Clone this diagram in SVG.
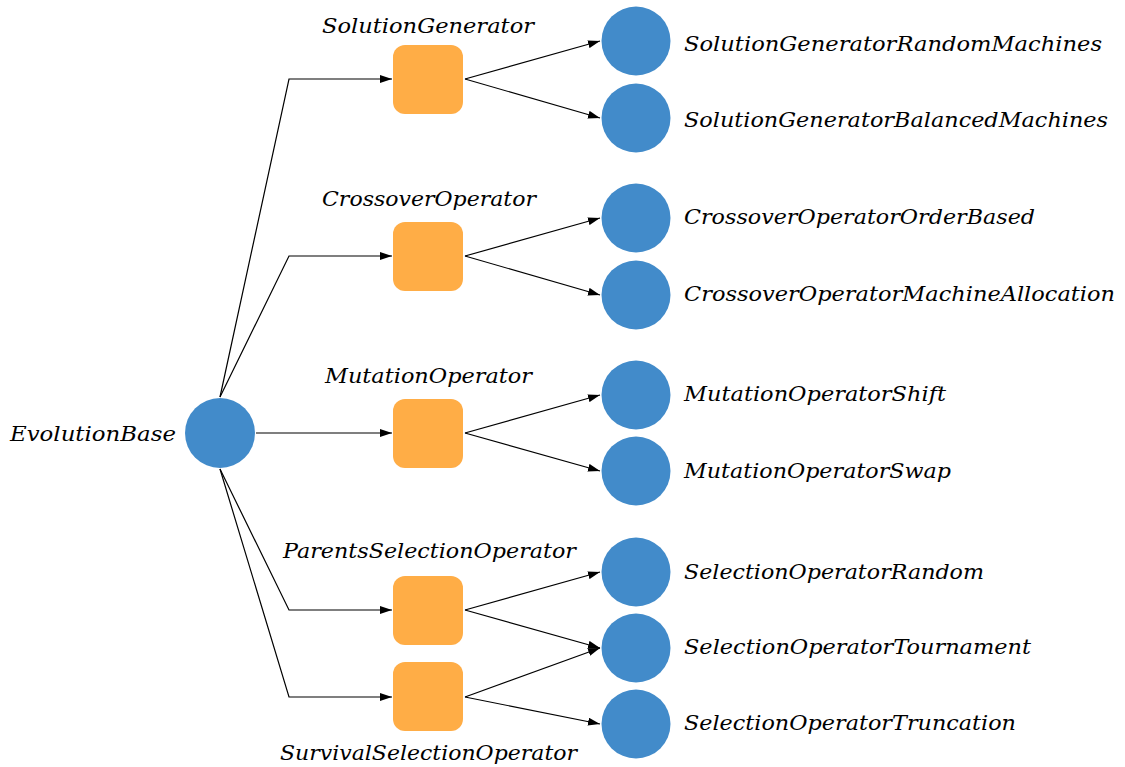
<svg xmlns="http://www.w3.org/2000/svg" width="1125" height="767" viewBox="0 0 1125 767">
<style>
.c{fill:#428bca}
.s{fill:#ffad46}
.t{font-family:'DejaVu Serif','Liberation Serif',serif;font-style:italic;font-size:21px;fill:#000}
.e{fill:none;stroke:#000;stroke-width:1.2}
</style>
<defs>
<marker id="a" viewBox="0 0 12 8" refX="12" refY="4" markerWidth="12" markerHeight="8" markerUnits="userSpaceOnUse" orient="auto">
<path d="M0,0 L12,4 L0,8 Z" fill="#000"/>
</marker>
</defs>
<rect width="1125" height="767" fill="#fff"/>
<g id="edges">
<polyline class="e" marker-end="url(#a)" points="220,397 289,79 392,79"/>
<polyline class="e" marker-end="url(#a)" points="220,397 289,256 392,256"/>
<polyline class="e" marker-end="url(#a)" points="256,433 392,433"/>
<polyline class="e" marker-end="url(#a)" points="220,469 289,610 392,610"/>
<polyline class="e" marker-end="url(#a)" points="220,469 289,697 392,697"/>
<line class="e" marker-end="url(#a)" x1="465" y1="79" x2="600" y2="41"/>
<line class="e" marker-end="url(#a)" x1="465" y1="79" x2="600" y2="118"/>
<line class="e" marker-end="url(#a)" x1="465" y1="256" x2="600" y2="218"/>
<line class="e" marker-end="url(#a)" x1="465" y1="256" x2="600" y2="295"/>
<line class="e" marker-end="url(#a)" x1="465" y1="433" x2="600" y2="395"/>
<line class="e" marker-end="url(#a)" x1="465" y1="433" x2="600" y2="471"/>
<line class="e" marker-end="url(#a)" x1="465" y1="610" x2="600" y2="572"/>
<line class="e" marker-end="url(#a)" x1="465" y1="610" x2="600" y2="648"/>
<line class="e" marker-end="url(#a)" x1="465" y1="697" x2="600" y2="648"/>
<line class="e" marker-end="url(#a)" x1="465" y1="697" x2="600" y2="724"/>
</g>
<g id="EvolutionBase"><circle class="c" cx="220" cy="433" r="35"/><text class="t" x="10" y="441" textLength="166" lengthAdjust="spacingAndGlyphs">EvolutionBase</text></g>
<g id="SolutionGenerator"><rect class="s" x="393" y="45" width="70" height="69" rx="12"/><text class="t" x="322" y="33" textLength="212" lengthAdjust="spacingAndGlyphs">SolutionGenerator</text></g>
<g id="CrossoverOperator"><rect class="s" x="393" y="222" width="70" height="69" rx="12"/><text class="t" x="322" y="206" textLength="214" lengthAdjust="spacingAndGlyphs">CrossoverOperator</text></g>
<g id="MutationOperator"><rect class="s" x="393" y="399" width="70" height="69" rx="12"/><text class="t" x="325" y="383" textLength="207" lengthAdjust="spacingAndGlyphs">MutationOperator</text></g>
<g id="ParentsSelectionOperator"><rect class="s" x="393" y="576" width="70" height="69" rx="12"/><text class="t" x="283" y="558" textLength="293" lengthAdjust="spacingAndGlyphs">ParentsSelectionOperator</text></g>
<g id="SurvivalSelectionOperator"><rect class="s" x="393" y="662" width="70" height="69" rx="12"/><text class="t" x="280" y="760" textLength="297" lengthAdjust="spacingAndGlyphs">SurvivalSelectionOperator</text></g>
<g id="SolutionGeneratorRandomMachines"><circle class="c" cx="636" cy="41" r="34.5"/><text class="t" x="684" y="51" textLength="418" lengthAdjust="spacingAndGlyphs">SolutionGeneratorRandomMachines</text></g>
<g id="SolutionGeneratorBalancedMachines"><circle class="c" cx="636" cy="118" r="34.5"/><text class="t" x="684" y="127" textLength="424" lengthAdjust="spacingAndGlyphs">SolutionGeneratorBalancedMachines</text></g>
<g id="CrossoverOperatorOrderBased"><circle class="c" cx="636" cy="218" r="34.5"/><text class="t" x="684" y="224" textLength="351" lengthAdjust="spacingAndGlyphs">CrossoverOperatorOrderBased</text></g>
<g id="CrossoverOperatorMachineAllocation"><circle class="c" cx="636" cy="295" r="34.5"/><text class="t" x="684" y="301" textLength="431" lengthAdjust="spacingAndGlyphs">CrossoverOperatorMachineAllocation</text></g>
<g id="MutationOperatorShift"><circle class="c" cx="636" cy="395" r="34.5"/><text class="t" x="684" y="401" textLength="262" lengthAdjust="spacingAndGlyphs">MutationOperatorShift</text></g>
<g id="MutationOperatorSwap"><circle class="c" cx="636" cy="471" r="34.5"/><text class="t" x="684" y="478" textLength="267" lengthAdjust="spacingAndGlyphs">MutationOperatorSwap</text></g>
<g id="SelectionOperatorRandom"><circle class="c" cx="636" cy="572" r="34.5"/><text class="t" x="684" y="579" textLength="300" lengthAdjust="spacingAndGlyphs">SelectionOperatorRandom</text></g>
<g id="SelectionOperatorTournament"><circle class="c" cx="636" cy="648" r="34.5"/><text class="t" x="684" y="654" textLength="347" lengthAdjust="spacingAndGlyphs">SelectionOperatorTournament</text></g>
<g id="SelectionOperatorTruncation"><circle class="c" cx="636" cy="724" r="34.5"/><text class="t" x="684" y="730" textLength="332" lengthAdjust="spacingAndGlyphs">SelectionOperatorTruncation</text></g>
</svg>
